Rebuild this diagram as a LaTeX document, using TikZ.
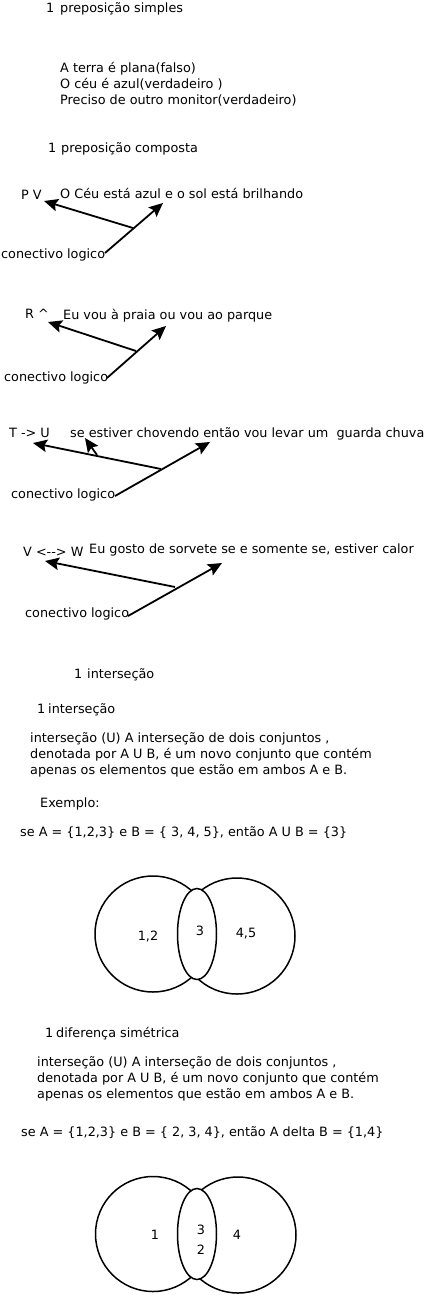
\documentclass[tikz,border=0pt]{standalone}
\usepackage{fontspec}
\setmainfont{DejaVu Sans}[Ligatures=TeXOff]
\usetikzlibrary{arrows.meta}
\begin{document}
\begin{tikzpicture}[x=1pt,y=-1pt,
  txt/.style={anchor=base west, inner sep=0pt, font=\fontsize{12.8}{15}\selectfont},
  lbl/.style={anchor=center, inner sep=0pt, font=\fontsize{12.8}{15}\selectfont},
  arr/.style={line width=1.8pt, -{Stealth[length=14pt,width=12.5pt,inset=2.5pt]}},
  setc/.style={line width=1.5pt},
  lens/.style={line width=1.5pt, fill=white}]
\useasboundingbox (0,0) rectangle (425,1295);

% preposicao simples
\node[txt] (n1) at (46,13) {1};
\node[txt] (h1) at (60,13) {preposição simples};
\node[txt] (s1) at (60,72.5) {A terra é plana(falso)};
\node[txt] (s2) at (60,88.5) {O céu é azul(verdadeiro )};
\node[txt] (s3) at (60,104.5) {Preciso de outro monitor(verdadeiro)};

% preposicao composta
\node[txt] (n2) at (48,153) {1};
\node[txt] (h2) at (61,153) {preposição composta};

% section 1
\node[txt] (pv) at (21,199) {P V};
\node[txt] (f1) at (60,198) {O Céu está azul e o sol está brilhando};
\node[txt] (c1) at (1,258) {conectivo logico};
\coordinate (c1s) at (105,253);
\coordinate (c1j) at (133,228);
\coordinate (c1a) at (44,201);
\coordinate (c1b) at (163,203);
\draw[arr] (c1s) -- (c1b);
\draw[arr] (c1j) -- (c1a);

% section 2
\node[txt] (ra) at (25,318) {R \textasciicircum};
\node[txt] (f2) at (63,319) {Eu vou à praia ou vou ao parque};
\node[txt] (c2) at (4,381) {conectivo logico};
\coordinate (c2s) at (107,378);
\coordinate (c2j) at (136,351);
\coordinate (c2a) at (48,322);
\coordinate (c2b) at (166,326);
\draw[arr] (c2s) -- (c2b);
\draw[arr] (c2j) -- (c2a);

% section 3
\node[txt] (tu) at (9,437) {T -> U};
\node[txt] (f3) at (70,437) {se estiver chovendo então vou levar um\ \ guarda chuva};
\node[txt] (c3) at (11,498) {conectivo logico};
\coordinate (c3s) at (115,496);
\coordinate (c3j) at (161,469);
\coordinate (c3a) at (33,443);
\coordinate (c3b) at (210,442);
\coordinate (c3k) at (97,455);
\coordinate (c3c) at (85,438);
\draw[arr] (c3s) -- (c3b);
\draw[arr] (c3j) -- (c3a);
\draw[arr] (c3k) -- (c3c);

% section 4
\node[txt] (vw) at (23,556) {V <--> W};
\node[txt] (f4) at (89,553) {Eu gosto de sorvete se e somente se, estiver calor};
\node[txt] (c4) at (25,617) {conectivo logico};
\coordinate (c4s) at (128,616);
\coordinate (c4j) at (175,587);
\coordinate (c4a) at (45,561);
\coordinate (c4b) at (222,563);
\draw[arr] (c4s) -- (c4b);
\draw[arr] (c4j) -- (c4a);

% intersecao
\node[txt] (n3) at (74,678) {1};
\node[txt] (h3) at (87,678) {interseção};
\node[txt] (n4) at (37,713) {1};
\node[txt] (h4) at (48,713) {interseção};
\node[txt] (p1) at (30,742) {interseção (U) A interseção de dois conjuntos ,};
\node[txt] (p2) at (30,758) {denotada por A U B, é um novo conjunto que contém};
\node[txt] (p3) at (30,774) {apenas os elementos que estão em ambos A e B.};
\node[txt] (ex) at (40,807) {Exemplo:};
\node[txt] (se1) at (20,836) {se A = \{1,2,3\} e B = \{ 3, 4, 5\}, então A U B = \{3\}};

\draw[setc] (153,934) circle (58);
\draw[setc] (237,936) circle (58);
\draw[lens] (197,934) ellipse (19.5 and 45.5);
\node[lbl] (v1a) at (148,936) {1,2};
\node[lbl] (v1b) at (200,931) {3};
\node[lbl] (v1c) at (246,934) {4,5};

% diferenca simetrica
\node[txt] (n5) at (45,1037) {1};
\node[txt] (h5) at (56,1037) {diferença simétrica};
\node[txt] (q1) at (37,1066) {interseção (U) A interseção de dois conjuntos ,};
\node[txt] (q2) at (37,1082) {denotada por A U B, é um novo conjunto que contém};
\node[txt] (q3) at (37,1098) {apenas os elementos que estão em ambos A e B.};
\node[txt] (se2) at (21,1136) {se A = \{1,2,3\} e B = \{ 2, 3, 4\}, então A delta B = \{1,4\}};

\draw[setc] (153,1234) circle (57.5);
\draw[setc] (238,1235) circle (58);
\draw[lens] (197,1234) ellipse (19.5 and 45.5);
\node[lbl] (v2a) at (155,1235) {1};
\node[lbl] (v2b) at (201,1230) {3};
\node[lbl] (v2c) at (201,1250) {2};
\node[lbl] (v2d) at (237,1235) {4};
\end{tikzpicture}
\end{document}
